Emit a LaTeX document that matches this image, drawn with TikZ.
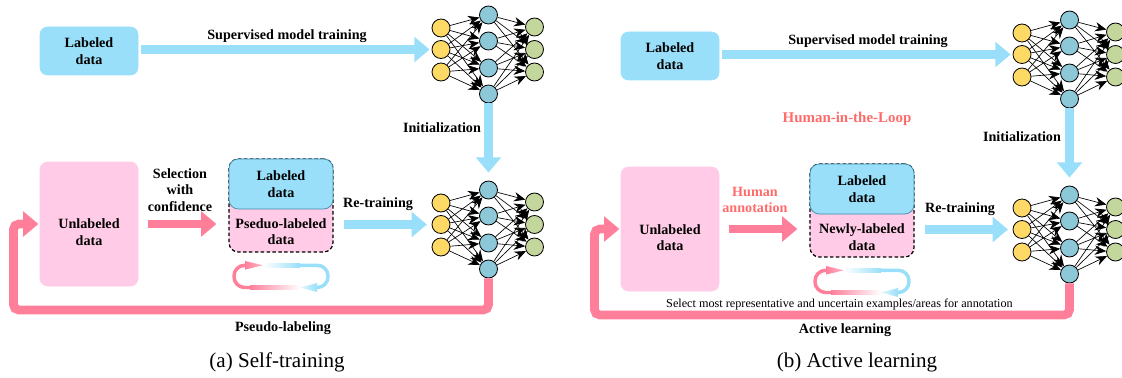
\documentclass[tikz,border=0pt]{standalone}
\usepackage{fontspec}
\setmainfont{Liberation Serif}
\usetikzlibrary{arrows.meta,calc}
\definecolor{cblue}{HTML}{99DFF9}
\definecolor{cpink}{HTML}{FF7F9B}
\definecolor{lpink}{HTML}{FFCBE6}
\definecolor{hred}{HTML}{FF6B6B}
\definecolor{edgeb}{HTML}{3F8CA8}
\definecolor{nyel}{HTML}{FFD966}
\definecolor{nblu}{HTML}{8CC8D8}
\definecolor{ngrn}{HTML}{C3D69B}
\tikzset{
  txt/.style={font=\bfseries\fontsize{10.6}{12.5}\selectfont, align=center, inner sep=0pt, text=black},
  box/.style={txt, rounded corners=5.5pt, inner sep=0pt},
  labbox/.style={box, fill=cblue, draw=cblue, minimum width=73.5pt, minimum height=36pt},
  unlbox/.style={box, fill=lpink, draw=lpink, minimum width=73.5pt, minimum height=93pt},
  mixbox/.style={box, rounded corners=7pt, fill=lpink, draw=black, dash pattern=on 2.6pt off 1.8pt, line width=.9pt, minimum width=78pt, minimum height=69.75pt},
  toplab/.style={box, rounded corners=7pt, fill=cblue, draw=edgeb, line width=.5pt, minimum width=78pt, minimum height=37.5pt},
  bigblue/.style={draw=cblue, line width=6.2pt, -{Triangle[length=11.5pt,width=18.5pt]}},
  bigpink/.style={draw=cpink, line width=6.6pt, -{Triangle[length=11.5pt,width=18.5pt]}},
  neuron/.style={circle, draw=black, line width=.6pt, minimum size=13.5pt, inner sep=0pt},
  link/.style={draw=black, line width=.5pt, -{Stealth[length=8.5pt,width=7pt]}},
  caption/.style={font=\fontsize{15.8}{18}\selectfont, inner sep=0pt},
  small/.style={font=\fontsize{9.15}{11}\selectfont, inner sep=0pt},
  hil/.style={txt, font=\bfseries\fontsize{11.2}{13}\selectfont, text=hred}
}
% neural net: prefix, x offset, y offset
\newcommand{\netdraw}[3]{%
  \foreach \n/\y in {1/28,2/49.5,3/72}
    \node[neuron, fill=nyel] (#1i\n) at ({441+#2},{\y+#3}) {};
  \foreach \n/\y in {1/15,2/41,3/68,4/94}
    \node[neuron, fill=nblu] (#1h\n) at ({488.5+#2},{\y+#3}) {};
  \foreach \n/\y in {1/27,2/49.5,3/72}
    \node[neuron, fill=ngrn] (#1o\n) at ({534.5+#2},{\y+#3}) {};
  \foreach \a in {1,2,3} \foreach \b in {1,2,3,4}
    \draw[link] (#1i\a) -- (#1h\b);
  \foreach \a in {1,2,3,4} \foreach \b in {1,2,3}
    \draw[link] (#1h\a) -- (#1o\b);
}
% cycle icon
\newcommand{\cycleicon}[2]{%
  \begin{scope}[shift={(#1,#2)}]
    \shade[left color=white, right color=cblue] (263,263.6) rectangle (300,267);
    \draw[cblue, line width=2.6pt, rounded corners=8pt] (299.5,265.3) -- (328,265.3) -- (328,287.5) -- (312,287.5);
    \shade[left color=cblue!25!white, right color=cblue] (300,287.5) -- (317,283) -- (317,292) -- cycle;
    \shade[left color=cpink, right color=white] (250,285.8) rectangle (300,289.2);
    \draw[cpink, line width=2.6pt, rounded corners=8pt] (250.5,287.5) -- (234,287.5) -- (234,265.3) -- (248,265.3);
    \shade[left color=cpink, right color=cpink!55!white] (263,265.3) -- (245,261) -- (245,269.6) -- cycle;
  \end{scope}
}
\begin{document}
\begin{tikzpicture}[x=0.75pt,y=-0.75pt]
\useasboundingbox (0,0) rectangle (1122,378);
\clip (0,0) rectangle (1122,378);

% ---------- panel a ----------
\netdraw{at}{0}{0}
\netdraw{ab}{0}{175}
\node[labbox] (aL) at (89,51) {Labeled\\data};
\node[unlbox] (aU) at (89,224) {};
\node[txt] (aUt) at (89,232) {Unlabeled\\data};
\node[mixbox] (aP) at (281,205.5) {};
\node[toplab] (aT) at (281,184) {Labeled\\data};
\node[txt] (aPt) at (281,231.5) {Pseduo-labeled\\data};
\node[txt] (aSup) at (287,36) {Supervised model training};
\node[txt] (aIni) at (442,128) {Initialization};
\node[txt] (aSel) at (180,190) {Selection\\with\\confidence};
\node[txt] (aRe) at (378,204) {Re-training};
\node[txt] (aPl) at (283,328) {Pseudo-labeling};
\node[caption] (aCap) at (277,362) {(a) Self-training};
\coordinate (afb) at (13.5,310);
\draw[bigblue, shorten <=2pt, shorten >=1.5pt] (aL.east |- ati2) -- (ati2.west);
\draw[bigblue] (ath4.south) -- ($(abh1.north)+(0,-8)$);
\draw[bigpink, shorten <=7pt, shorten >=9pt] (aU.east) -- (aU.east -| aP.west);
\draw[bigblue, shorten <=7.5pt, shorten >=3.5pt] (aP.east |- abi2) -- (abi2.west);
\draw[bigpink, rounded corners=4pt, shorten >=1pt] (abh4.south) |- (afb) |- (aU.west);
\cycleicon{0}{0}

% ---------- panel b ----------
\netdraw{bt}{581}{5}
\netdraw{bb}{581}{180}
\node[labbox] (bL) at (670,56) {Labeled\\data};
\node[unlbox] (bU) at (670,229) {};
\node[txt] (bUt) at (670,237.5) {Unlabeled\\data};
\node[mixbox] (bP) at (862,210.5) {};
\node[toplab] (bT) at (862,189) {Labeled\\data};
\node[txt] (bPt) at (862,237) {Newly-labeled\\data};
\node[txt] (bSup) at (868,41) {Supervised model training};
\node[hil] (bHil) at (847,119) {Human-in-the-Loop};
\node[txt] (bIni) at (1022,137) {Initialization};
\node[hil, font=\bfseries\fontsize{10.6}{12.5}\selectfont] (bHum) at (755,200) {Human\\annotation};
\node[txt] (bRe) at (960,209) {Re-training};
\node[small] (bSel) at (839.5,305) {Select most representative and uncertain examples/areas for annotation};
\node[txt] (bAl) at (845,330) {Active learning};
\node[caption] (bCap) at (857,362) {(b) Active learning};
\coordinate (bfb) at (594.5,315);
\draw[bigblue, shorten <=2pt, shorten >=1.5pt] (bL.east |- bti2) -- (bti2.west);
\draw[bigblue] (bth4.south) -- ($(bbh1.north)+(0,-8)$);
\draw[bigpink, shorten <=7pt, shorten >=9pt] (bU.east) -- (bU.east -| bP.west);
\draw[bigblue, shorten <=7.5pt, shorten >=3.5pt] (bP.east |- bbi2) -- (bbi2.west);
\draw[bigpink, rounded corners=4pt, shorten >=1pt] (bbh4.south) |- (bfb) |- (bU.west);
\cycleicon{581}{5}
\end{tikzpicture}
\end{document}
